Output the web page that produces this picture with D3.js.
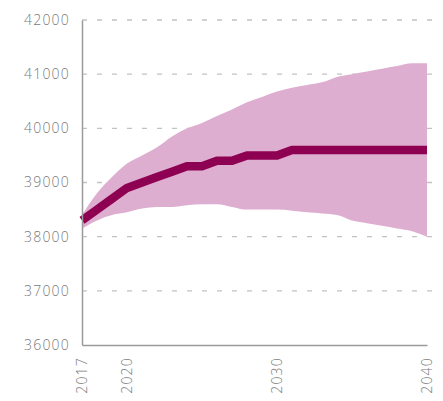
<!DOCTYPE html>
<html>
<head>
  <meta charset="utf-8">
  <script src="https://d3js.org/d3.v7.min.js"></script>
  <style>
    body { margin: 0; background: #fff; }
    text { font-family: "Open Sans", sans-serif; font-weight: 300; }
  </style>
</head>
<body>
  <div id="chart"></div>
  <script type="text/javascript">

    // values
    var years = [2017, 2018, 2019, 2020, 2021, 2022, 2023, 2024, 2025, 2026, 2027, 2028,
                 2029, 2030, 2031, 2032, 2033, 2034, 2035, 2036, 2037, 2038, 2039, 2040];
    var central = [38300, 38500, 38700, 38900, 39000, 39100, 39200, 39300, 39300, 39400, 39400, 39500,
                   39500, 39500, 39600, 39600, 39600, 39600, 39600, 39600, 39600, 39600, 39600, 39600];
    var upper = [38400, 38800, 39100, 39350, 39500, 39650, 39850, 40000, 40100, 40230, 40350, 40480,
                 40580, 40680, 40750, 40800, 40850, 40950, 41000, 41050, 41100, 41150, 41200, 41200];
    var lower = [38150, 38300, 38400, 38450, 38520, 38550, 38550, 38580, 38600, 38600, 38550, 38500,
                 38500, 38500, 38480, 38450, 38430, 38400, 38300, 38250, 38200, 38150, 38100, 38000];
    var yTicks = [36000, 37000, 38000, 39000, 40000, 41000, 42000];
    var xTicks = [2017, 2020, 2030, 2040];

    var width = 443, height = 401;
    var margin = {top: 20, right: 16, bottom: 56, left: 82};

    var svg = d3.select('#chart')
                .append('svg')
                  .attr('width', width)
                  .attr('height', height);

    var x = d3.scaleLinear()
        .domain([2017, 2040])
        .range([margin.left, width - margin.right]);

    var y = d3.scaleLinear()
        .domain([36000, 42000])
        .range([height - margin.bottom, margin.top]);

    var data = years.map(function(yr, i) {
      return {year: yr, mid: central[i], hi: upper[i], lo: lower[i]};
    });

    // dashed grid
    svg.append('g')
        .selectAll('line')
        .data(yTicks.slice(1))
        .enter()
        .append('line')
          .attr('x1', margin.left)
          .attr('x2', width - 10)
          .attr('y1', function(d) { return y(d); })
          .attr('y2', function(d) { return y(d); })
          .attr('stroke', '#c2c2c2')
          .attr('stroke-width', 1.3)
          .attr('stroke-dasharray', '5,10');

    // uncertainty band
    var area = d3.area()
        .x(function(d) { return x(d.year); })
        .y0(function(d) { return y(d.lo); })
        .y1(function(d) { return y(d.hi); })
        .curve(d3.curveMonotoneX);

    svg.append('path')
        .datum(data)
        .attr('d', area)
        .attr('fill', '#ddaed0');

    // central projection
    var line = d3.line()
        .x(function(d) { return x(d.year); })
        .y(function(d) { return y(d.mid); });

    svg.append('path')
        .datum(data)
        .attr('d', line)
        .attr('fill', 'none')
        .attr('stroke', '#8e0052')
        .attr('stroke-width', 8.5)
        .attr('stroke-linejoin', 'round');

    // axes
    var yAxis = svg.append('g')
        .attr('transform', 'translate(' + margin.left + ',0)')
        .call(d3.axisLeft(y).tickValues(yTicks).tickSize(0).tickPadding(12).tickFormat(d3.format('d')));

    var xAxis = svg.append('g')
        .attr('transform', 'translate(0,' + (height - margin.bottom) + ')')
        .call(d3.axisBottom(x).tickValues(xTicks).tickSize(0).tickFormat(d3.format('d')));

    [yAxis, xAxis].forEach(function(a) {
      a.select('.domain').attr('stroke', '#9a9a9a').attr('stroke-width', 1.5);
      a.selectAll('text')
          .attr('fill', '#7a7a7a')
          .attr('font-size', 14)
          .attr('letter-spacing', 1.2);
    });

    xAxis.selectAll('text')
        .attr('transform', 'rotate(-90)')
        .attr('text-anchor', 'end')
        .attr('x', -12)
        .attr('y', 0)
        .attr('dy', '0.35em');

  </script>
</body>
</html>
